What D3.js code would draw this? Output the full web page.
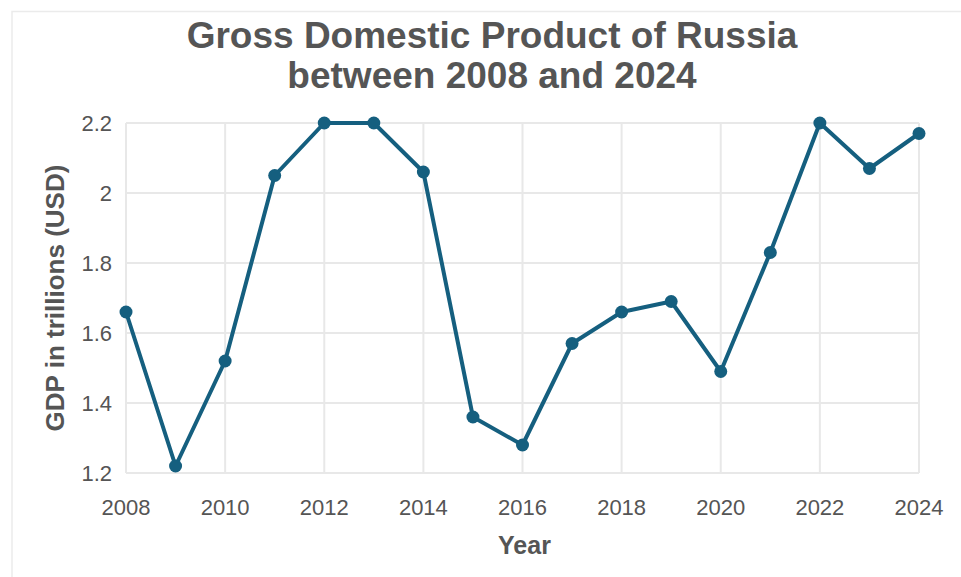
<!DOCTYPE html>
<html>
<head>
<meta charset="utf-8">
<script src="https://cdn.jsdelivr.net/npm/d3@7"></script>
<style>
  body { margin: 0; background: #fff; }
  text { font-family: "Liberation Sans", Arial, sans-serif; fill: #555; }
</style>
</head>
<body>
<div id="chart"></div>
<script>
// GDP of Russia, trillions USD
var years = [2008, 2009, 2010, 2011, 2012, 2013, 2014, 2015, 2016, 2017, 2018, 2019, 2020, 2021, 2022, 2023, 2024];
var gdp = [1.66, 1.22, 1.52, 2.05, 2.2, 2.2, 2.06, 1.36, 1.28, 1.57, 1.66, 1.69, 1.49, 1.83, 2.2, 2.07, 2.17];
var xTicks = [2008, 2010, 2012, 2014, 2016, 2018, 2020, 2022, 2024];
var yTicks = [1.2, 1.4, 1.6, 1.8, 2, 2.2];

var W = 961, H = 577;
var margin = {left: 126, right: 42, top: 123, bottom: 104};

var svg = d3.select('#chart').append('svg')
  .attr('width', W)
  .attr('height', H);

// outer frame (top + left edges visible)
svg.append('path')
  .attr('d', 'M12,' + H + 'V11.5H' + W)
  .attr('fill', 'none')
  .attr('stroke', '#ebebeb')
  .attr('stroke-width', 1.5);

var x = d3.scaleLinear().domain([2008, 2024]).range([margin.left, W - margin.right]);
var y = d3.scaleLinear().domain([1.2, 2.2]).range([H - margin.bottom, margin.top]);

// grid
svg.append('g').selectAll('line.v')
  .data(xTicks).enter().append('line')
  .attr('x1', d => x(d)).attr('x2', d => x(d))
  .attr('y1', y(2.2)).attr('y2', y(1.2))
  .attr('stroke', '#e8e8e8').attr('stroke-width', 2);
svg.append('g').selectAll('line.h')
  .data(yTicks).enter().append('line')
  .attr('x1', x(2008)).attr('x2', x(2024))
  .attr('y1', d => y(d)).attr('y2', d => y(d))
  .attr('stroke', '#e8e8e8').attr('stroke-width', 2);

// tick labels
svg.append('g').selectAll('text')
  .data(yTicks).enter().append('text')
  .attr('x', margin.left - 14)
  .attr('y', d => y(d) + 8)
  .attr('text-anchor', 'end')
  .attr('font-size', 22)
  .text(d => d3.format('')(d));
svg.append('g').selectAll('text')
  .data(xTicks).enter().append('text')
  .attr('x', d => x(d))
  .attr('y', y(1.2) + 42)
  .attr('text-anchor', 'middle')
  .attr('font-size', 22)
  .text(d => d);

// line + points
var line = d3.line().x((d, i) => x(years[i])).y(d => y(d));
svg.append('path')
  .datum(gdp)
  .attr('d', line)
  .attr('fill', 'none')
  .attr('stroke', '#155f7f')
  .attr('stroke-width', 4)
  .attr('stroke-linejoin', 'round');
svg.append('g').selectAll('circle')
  .data(gdp).enter().append('circle')
  .attr('cx', (d, i) => x(years[i]))
  .attr('cy', d => y(d))
  .attr('r', 6.5)
  .attr('fill', '#155f7f');

// titles
var title = svg.append('text')
  .attr('text-anchor', 'middle')
  .attr('font-size', 37)
  .attr('font-weight', 'bold');
title.append('tspan').attr('x', 492).attr('y', 48).text('Gross Domestic Product of Russia');
title.append('tspan').attr('x', 492).attr('y', 88).text('between 2008 and 2024');

svg.append('text')
  .attr('x', (x(2008) + x(2024)) / 2 + 2)
  .attr('y', 554)
  .attr('text-anchor', 'middle')
  .attr('font-size', 25)
  .attr('font-weight', 'bold')
  .text('Year');

svg.append('text')
  .attr('transform', 'translate(64,' + ((y(1.2) + y(2.2)) / 2) + ') rotate(-90)')
  .attr('text-anchor', 'middle')
  .attr('font-size', 26)
  .attr('font-weight', 'bold')
  .text('GDP in trillions (USD)');
</script>
</body>
</html>
